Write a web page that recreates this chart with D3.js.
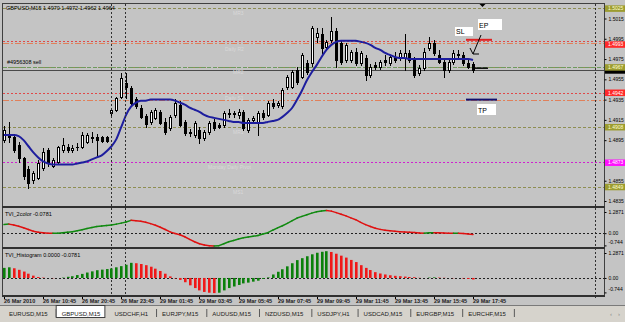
<!DOCTYPE html>
<html>
<head>
<meta charset="utf-8">
<script src="https://cdn.jsdelivr.net/npm/d3@7/dist/d3.min.js"></script>
<style>
body{margin:0;background:#c4c4c4;}
svg{display:block;font-family:"Liberation Sans",Arial,sans-serif;}
</style>
</head>
<body>
<script>
//GBPUSD M15 bars (oldest first)
var open = [1.4895,1.4900,1.4898,1.4890,1.4877,1.4867,1.4856,1.4858,1.4868,1.4885,
    1.4870,1.4873,1.4885,1.4888,1.4885,1.4888,1.4888,1.4893,1.4898,1.4898,
    1.4898,1.4898,1.4922,1.4925,1.4938,1.4951,1.4946,1.4936,1.4927,1.4919,
    1.4913,1.4917,1.4923,1.4913,1.4907,1.4920,1.4930,1.4913,1.4903,1.4900,
    1.4905,1.4897,1.4903,1.4913,1.4910,1.4910,1.4922,1.4921,1.4920,1.4923,
    1.4905,1.4915,1.4912,1.4922,1.4920,1.4932,1.4930,1.4929,1.4947,1.4947,
    1.4964,1.4957,1.4971,1.4971,1.4997,1.5000,1.4987,1.4994,1.5003,1.4991,
    1.4974,1.4974,1.4982,1.4971,1.4976,1.4959,1.4969,1.4967,1.4974,1.4971,
    1.4977,1.4976,1.4976,1.4981,1.4974,1.4961,1.4966,1.4986,1.4991,1.4979,
    1.4972,1.4964,1.4972,1.4980,1.4979,1.4971,1.4970];
var high = [1.4909,1.4913,1.4901,1.4893,1.4878,1.4870,1.4865,1.4875,1.4887,1.4887,
    1.4877,1.4889,1.4897,1.4891,1.4890,1.4892,1.4903,1.4902,1.4903,1.4901,
    1.4899,1.4899,1.4926,1.4938,1.4961,1.4961,1.4948,1.4938,1.4930,1.4921,
    1.4925,1.4927,1.4925,1.4917,1.4920,1.4936,1.4934,1.4915,1.4906,1.4914,
    1.4908,1.4905,1.4914,1.4916,1.4912,1.4924,1.4926,1.4924,1.4926,1.4925,
    1.4917,1.4919,1.4924,1.4925,1.4934,1.4936,1.4934,1.4946,1.4959,1.4964,
    1.4967,1.4981,1.4974,1.5008,1.5006,1.5006,1.4994,1.5016,1.5006,1.4994,
    1.4991,1.4984,1.4986,1.4983,1.4979,1.4970,1.4972,1.4974,1.4979,1.4979,
    1.4982,1.4984,1.5000,1.4984,1.4977,1.4969,1.4986,1.4997,1.4994,1.4984,
    1.4976,1.4974,1.4984,1.4984,1.4982,1.4974,1.4972];
var low = [1.4893,1.4893,1.4883,1.4873,1.4857,1.4848,1.4853,1.4857,1.4866,1.4870,
    1.4869,1.4871,1.4883,1.4883,1.4883,1.4885,1.4887,1.4892,1.4893,1.4880,
    1.4893,1.4893,1.4919,1.4924,1.4937,1.4937,1.4930,1.4927,1.4917,1.4908,
    1.4911,1.4916,1.4911,1.4901,1.4905,1.4918,1.4909,1.4900,1.4899,1.4898,
    1.4892,1.4895,1.4901,1.4905,1.4907,1.4908,1.4918,1.4918,1.4917,1.4905,
    1.4903,1.4912,1.4900,1.4916,1.4919,1.4927,1.4928,1.4927,1.4945,1.4946,
    1.4950,1.4956,1.4960,1.4968,1.4992,1.4981,1.4985,1.4992,1.4967,1.4970,
    1.4972,1.4972,1.4969,1.4969,1.4954,1.4957,1.4965,1.4965,1.4969,1.4969,
    1.4972,1.4974,1.4964,1.4972,1.4957,1.4959,1.4964,1.4984,1.4979,1.4971,
    1.4957,1.4962,1.4970,1.4976,1.4969,1.4966,1.4962];
var close = [1.4905,1.4898,1.4885,1.4877,1.4860,1.4853,1.4863,1.4872,1.4883,1.4872,
    1.4875,1.4888,1.4890,1.4885,1.4887,1.4888,1.4900,1.4900,1.4897,1.4895,
    1.4894,1.4894,1.4925,1.4937,1.4956,1.4947,1.4932,1.4929,1.4918,1.4911,
    1.4923,1.4925,1.4912,1.4903,1.4918,1.4932,1.4910,1.4902,1.4902,1.4912,
    1.4897,1.4903,1.4912,1.4907,1.4908,1.4922,1.4921,1.4922,1.4923,1.4907,
    1.4915,1.4917,1.4922,1.4918,1.4932,1.4929,1.4932,1.4944,1.4957,1.4962,
    1.4952,1.4979,1.4962,1.5006,1.5001,1.4986,1.4992,1.5003,1.4974,1.4972,
    1.4989,1.4982,1.4971,1.4981,1.4959,1.4967,1.4967,1.4972,1.4972,1.4977,
    1.4974,1.4981,1.4981,1.4974,1.4959,1.4966,1.4982,1.4991,1.4981,1.4972,
    1.4964,1.4972,1.4981,1.4979,1.4971,1.4967,1.4964];

//blue moving average
var ma = [1.4900,1.4900,1.4900,1.4899,1.4895,1.4889,1.4883,1.4878,1.4874,1.4872,
    1.4871,1.4871,1.4871,1.4871,1.4871,1.4872,1.4873,1.4874,1.4876,1.4878,
    1.4880,1.4884,1.4889,1.4896,1.4908,1.4920,1.4928,1.4932,1.4934,1.4934,
    1.4935,1.4935,1.4935,1.4935,1.4935,1.4934,1.4932,1.4930,1.4927,1.4925,
    1.4923,1.4920,1.4918,1.4917,1.4916,1.4915,1.4914,1.4913,1.4913,1.4912,
    1.4912,1.4912,1.4912,1.4912,1.4913,1.4914,1.4915,1.4918,1.4922,1.4927,
    1.4935,1.4944,1.4954,1.4962,1.4969,1.4977,1.4984,1.4989,1.4992,1.4993,
    1.4993,1.4993,1.4993,1.4992,1.4991,1.4989,1.4986,1.4984,1.4981,1.4979,
    1.4977,1.4976,1.4976,1.4975,1.4975,1.4975,1.4975,1.4975,1.4975,1.4975,
    1.4975,1.4975,1.4975,1.4975,1.4975,1.4975,1.4974];

//TVI indicator values (same buffer drawn as line and histogram)
var tvi = [0.52,0.55,0.50,0.42,0.33,0.22,0.12,0.05,0.02,0.00,
    -0.01,0.00,0.02,0.06,0.09,0.15,0.21,0.28,0.34,0.40,
    0.43,0.46,0.49,0.55,0.61,0.68,0.78,0.76,0.72,0.66,
    0.58,0.48,0.36,0.22,0.08,-0.02,-0.10,-0.22,-0.38,-0.52,
    -0.64,-0.72,-0.76,-0.78,-0.76,-0.64,-0.52,-0.44,-0.36,-0.28,
    -0.24,-0.19,-0.14,-0.05,0.03,0.18,0.32,0.45,0.60,0.76,
    0.92,1.02,1.12,1.22,1.30,1.35,1.38,1.34,1.25,1.15,
    1.05,0.93,0.82,0.66,0.52,0.41,0.30,0.23,0.18,0.14,
    0.11,0.09,0.07,0.05,0.04,0.01,0.00,0.02,0.03,0.02,
    0.01,0.00,-0.01,0.00,-0.02,-0.05,-0.0781];

//time labels, one every 8 bars
var timeLabels = ["26 Mar 2010","26 Mar 10:45","26 Mar 20:45","26 Mar 23:45","29 Mar 01:45",
    "29 Mar 03:45","29 Mar 05:45","29 Mar 07:45","29 Mar 09:45","29 Mar 11:45",
    "29 Mar 13:45","29 Mar 15:45","29 Mar 17:45"];
var priceTicks = [1.5015,1.4995,1.4975,1.4955,1.4935,1.4915,1.4895,1.4855,1.4835];
var indTicks = [1.2871, 0, -0.744];
var indTickLabels = ["1.2871","0.00","-0.744"];

//levels on the main chart
var midLevels = [1.5025, 1.4967, 1.4908, 1.4849];
var dailyLevels = [1.4991, 1.4935];
var orderLevels = [1.4993, 1.4942];
var pivotLevel = 1.4873;
var entryPrice = 1.4967;
var bidPrice = 1.4964;
var levelNames = ["MR3","Daily R2","MR2","Daily S1","MR1","Monday Daily Pivot","MS1"];
var levelNamePrices = [1.5025, 1.4990, 1.4967, 1.4942, 1.4908, 1.4873, 1.4849];

var tabs = ["EURUSD,M15","GBPUSD,M15","USDCHF,H1","EURJPY,M15","AUDUSD,M15",
    "NZDUSD,M15","USDJPY,H1","USDCAD,M15","EURGBP,M15","EURCHF,M15"];
var activeTab = "GBPUSD,M15";

var w = 625, h = 322;

window.onload = function(){

    var svg = d3.select("body").append("svg")
        .attr("width", w)
        .attr("height", h);

    svg.append("rect")
        .attr("width", w).attr("height", h)
        .style("fill", "#c4c4c4");

    var n = open.length;
    var x = d3.scaleLinear().domain([0, n - 1]).range([4, 473]);
    var y = d3.scaleLinear().domain([1.4835, 1.5015]).range([201, 18.5]);
    var y1 = d3.scaleLinear().domain([-0.744, 1.2871]).range([245.4, 212]);
    var y2 = d3.scaleLinear().domain([-0.744, 1.2871]).range([292.4, 253]);

    function px(i){ return Math.round(x(i)); }

    //clip for the main window
    svg.append("clipPath").attr("id", "mainclip")
        .append("rect").attr("x", 3).attr("y", 4).attr("width", 601).attr("height", 202);

    var main = svg.append("g").attr("clip-path", "url(#mainclip)");

    //horizontal levels
    function hline(p, color, dash, width){
        var yy = Math.round(y(p)) + 0.5;
        main.append("line")
            .attr("x1", 3).attr("x2", 604)
            .attr("y1", yy).attr("y2", yy)
            .style("stroke", color)
            .style("stroke-width", width || 1)
            .style("stroke-dasharray", dash);
    }
    midLevels.forEach(function(p){ hline(p, "#8e8e52", "3,2"); });
    dailyLevels.forEach(function(p){ hline(p, "#e0805a", "6,2,2,2"); });
    orderLevels.forEach(function(p){ hline(p, "#e04848", "2,2"); });
    hline(pivotLevel, "#d020d0", "2,2");
    hline(entryPrice, "#6e9a5e", "4,2");
    hline(bidPrice, "#4a4a4a", null);

    //faint level names
    main.selectAll(".lvlname")
        .data(levelNames)
        .enter()
        .append("text")
        .attr("class", "lvlname")
        .attr("x", function(d){ return d.length > 10 ? 208 : (d.length > 3 ? 225 : 233); })
        .attr("y", function(d, i){ return y(levelNamePrices[i]) + 7; })
        .style("font-size", "5px")
        .style("fill", "#d9d9d9")
        .text(function(d){ return d; });

    //vertical dotted separators
    [111, 125, 595].forEach(function(vx){
        svg.append("line")
            .attr("x1", vx + 0.5).attr("x2", vx + 0.5)
            .attr("y1", 4).attr("y2", vx > 500 ? 298 : 296)
            .style("stroke", "#303030")
            .style("stroke-dasharray", "2,2");
    });

    //candles
    var candles = main.selectAll(".candle")
        .data(d3.range(n))
        .enter()
        .append("g")
        .attr("class", "candle");

    candles.append("line")
        .attr("x1", function(i){ return px(i) + 0.5; })
        .attr("x2", function(i){ return px(i) + 0.5; })
        .attr("y1", function(i){ return Math.round(y(high[i])); })
        .attr("y2", function(i){ return Math.round(y(low[i])) + 1; })
        .style("stroke", "#000");

    candles.append("rect")
        .attr("x", function(i){ return px(i) - 0.5; })
        .attr("y", function(i){ return Math.round(y(Math.max(open[i], close[i]))) + 0.5; })
        .attr("width", 2)
        .attr("height", function(i){
            return Math.max(0.01, Math.round(y(Math.min(open[i], close[i]))) - Math.round(y(Math.max(open[i], close[i]))));
        })
        .style("fill", function(i){ return close[i] >= open[i] ? "#fff" : "#000"; })
        .style("stroke", "#000");

    //moving average
    var maLine = d3.line()
        .x(function(d, i){ return x(i); })
        .y(function(d){ return y(d); })
        .curve(d3.curveMonotoneX);
    main.append("path")
        .datum(ma)
        .attr("d", maLine)
        .style("fill", "none")
        .style("stroke", "#1e1e9e")
        .style("stroke-width", 2);

    //trade annotations
    main.append("line").attr("x1", 466).attr("x2", 492).attr("y1", y(orderLevels[0]) - 1).attr("y2", y(orderLevels[0]) - 1)
        .style("stroke", "#e02020").style("stroke-width", 2);
    main.append("line").attr("x1", 466).attr("x2", 497).attr("y1", y(1.4935)).attr("y2", y(1.4935))
        .style("stroke", "#101070").style("stroke-width", 2);
    main.append("line").attr("x1", 472).attr("x2", 488).attr("y1", y(entryPrice) + 1).attr("y2", y(entryPrice) + 1)
        .style("stroke", "#000").style("stroke-width", 1.5);
    main.append("polyline")
        .attr("points", "470,48 473,54 481,35")
        .style("fill", "none").style("stroke", "#000").style("stroke-width", 1);
    main.append("line").attr("x1", 473).attr("x2", 479).attr("y1", 54).attr("y2", 54)
        .style("stroke", "#000");

    var boxes = [{t:"SL", x:455, y:27, w:18, h:9}, {t:"EP", x:478, y:19, w:24, h:11}, {t:"TP", x:477, y:104, w:19, h:11}];
    boxes.forEach(function(b){
        main.append("rect").attr("x", b.x).attr("y", b.y).attr("width", b.w).attr("height", b.h)
            .style("fill", "#fff");
        main.append("text").attr("x", b.x + 1).attr("y", b.y + b.h - 2)
            .style("font-size", "7px").style("fill", "#000").text(b.t);
    });

    //shift marker
    svg.append("path").attr("d", "M479.5,4 L485.5,4 L482.5,7 Z").style("fill", "#000");

    //window texts
    svg.append("text").attr("x", 6).attr("y", 10).style("font-size", "5.5px")
        .text("GBPUSD,M15  1.4970 1.4972 1.4962 1.4964");
    svg.append("text").attr("x", 7).attr("y", 64).style("font-size", "5.5px")
        .text("#4956308 sell");
    svg.append("text").attr("x", 5).attr("y", 216).style("font-size", "5.5px")
        .text("TVI_2color -0.0781");
    svg.append("text").attr("x", 5).attr("y", 257).style("font-size", "5.5px")
        .text("TVI_Histogram 0.0000 -0.0781");

    //indicator zero lines
    [y1(0), y2(0)].forEach(function(zy){
        svg.append("line").attr("x1", 3).attr("x2", 604)
            .attr("y1", Math.round(zy) + 0.5).attr("y2", Math.round(zy) + 0.5)
            .style("stroke", "#202020").style("stroke-dasharray", "2,2");
    });

    //TVI 2 color line
    for (var i = 1; i < n; i++){
        svg.append("line")
            .attr("x1", x(i - 1)).attr("y1", y1(tvi[i - 1]))
            .attr("x2", x(i)).attr("y2", y1(tvi[i]))
            .style("stroke", tvi[i] >= tvi[i - 1] ? "#108a10" : "#e01010")
            .style("stroke-width", 1.5)
            .style("stroke-linecap", "round");
    }

    //TVI histogram
    svg.selectAll(".hbar")
        .data(tvi)
        .enter()
        .append("rect")
        .attr("class", "hbar")
        .attr("x", function(d, i){ return px(i) - 1; })
        .attr("width", 2.6)
        .attr("y", function(d){ return Math.min(y2(d), y2(0)); })
        .attr("height", function(d){ return Math.abs(y2(d) - y2(0)); })
        .style("fill", function(d, i){ return (i == 0 || d >= tvi[i - 1]) ? "#0a800a" : "#f01818"; });

    //frames
    svg.append("line").attr("x1", 2.5).attr("x2", 2.5).attr("y1", 3).attr("y2", 297).style("stroke", "#404040");
    svg.append("line").attr("x1", 604.5).attr("x2", 604.5).attr("y1", 3).attr("y2", 297).style("stroke", "#404040");
    svg.append("line").attr("x1", 2).attr("x2", 605).attr("y1", 3.5).attr("y2", 3.5).style("stroke", "#404040");
    [206, 247, 295].forEach(function(sy){
        svg.append("rect").attr("x", 2).attr("y", sy).attr("width", 603).attr("height", 2)
            .style("fill", "#303030");
    });

    //price axis
    var pAxis = svg.append("g")
        .attr("class", "axis")
        .attr("transform", "translate(604.5,0)")
        .call(d3.axisRight(y).tickValues(priceTicks).tickSize(2).tickPadding(2).tickFormat(d3.format(".4f")));
    pAxis.select(".domain").remove();
    pAxis.selectAll("text").style("font-size", "5px").style("font-family", "Liberation Sans, Arial");

    //indicator axes
    [y1, y2].forEach(function(sc){
        var g = svg.append("g")
            .attr("transform", "translate(604.5,0)")
            .call(d3.axisRight(sc).tickValues(indTicks).tickSize(2).tickPadding(2)
                .tickFormat(function(d, i){ return indTickLabels[i]; }));
        g.select(".domain").remove();
        g.selectAll("text").style("font-size", "5px").style("font-family", "Liberation Sans, Arial")
            .attr("dy", function(d){ return d < 0 ? "-0.3em" : "0.32em"; });
    });

    //price tags on the axis
    var tags = [];
    midLevels.forEach(function(p){ if (p != entryPrice) tags.push({p:p, fill:"#9c9c30", text:"#ffffd0"}); });
    orderLevels.forEach(function(p, k){ tags.push({p:p, fill:"#ff2a2a", text:"#fff", dy:(k == 0 ? 3.5 : 0)}); });
    tags.push({p:pivotLevel, fill:"#ff10ff", text:"#fff"});
    tags.push({p:bidPrice, fill:"#000", text:null});
    tags.push({p:entryPrice, fill:"#9c9c30", text:"#ffffd0"});
    tags.forEach(function(t){
        var ty = y(t.p) + (t.dy || 0);
        svg.append("rect").attr("x", 605).attr("y", ty - 3).attr("width", 20).attr("height", 6.5)
            .style("fill", t.fill);
        if (t.text){
            svg.append("text").attr("x", 608).attr("y", ty + 2).style("font-size", "5px")
                .style("fill", t.text).text(d3.format(".4f")(t.p));
        }
    });

    //time axis
    timeLabels.forEach(function(lb, k){
        var tx = px(k * 8);
        svg.append("line").attr("x1", tx + 0.5).attr("x2", tx + 0.5).attr("y1", 297).attr("y2", 299)
            .style("stroke", "#000");
        svg.append("text").attr("x", tx).attr("y", 303).style("font-size", "5.5px")
            .style("font-weight", "bold").style("fill", "#202020").text(lb);
    });

    //tab bar
    svg.append("rect").attr("x", 0).attr("y", 305).attr("width", w).attr("height", 17)
        .style("fill", "#d6d3cc");
    svg.append("line").attr("x1", 0).attr("x2", w).attr("y1", 305.5).attr("y2", 305.5)
        .style("stroke", "#7a7a7a");
    var tabG = svg.append("g");
    var cx = 9;
    tabs.forEach(function(t){
        var txt = tabG.append("text").attr("x", cx).attr("y", 315.5)
            .style("font-size", "6px").style("fill", "#1a1a1a").text(t);
        var tw = txt.node().getComputedTextLength();
        if (t == activeTab){
            tabG.insert("rect", function(){ return txt.node(); })
                .attr("x", cx - 5.5).attr("y", 305.5).attr("width", tw + 10).attr("height", 12)
                .style("fill", "#fff").style("stroke", "#404040");
        } else {
            tabG.append("line").attr("x1", cx + tw + 8.5).attr("x2", cx + tw + 8.5)
                .attr("y1", 309).attr("y2", 317).style("stroke", "#5a5a5a");
        }
        cx = cx + tw + 14;
    });
    svg.append("text").attr("x", 610).attr("y", 316).style("font-size", "6px").style("fill", "#888").text("\u2039");
    svg.append("text").attr("x", 618).attr("y", 316).style("font-size", "6px").style("fill", "#888").text("\u203a");
};
</script>
</body>
</html>
